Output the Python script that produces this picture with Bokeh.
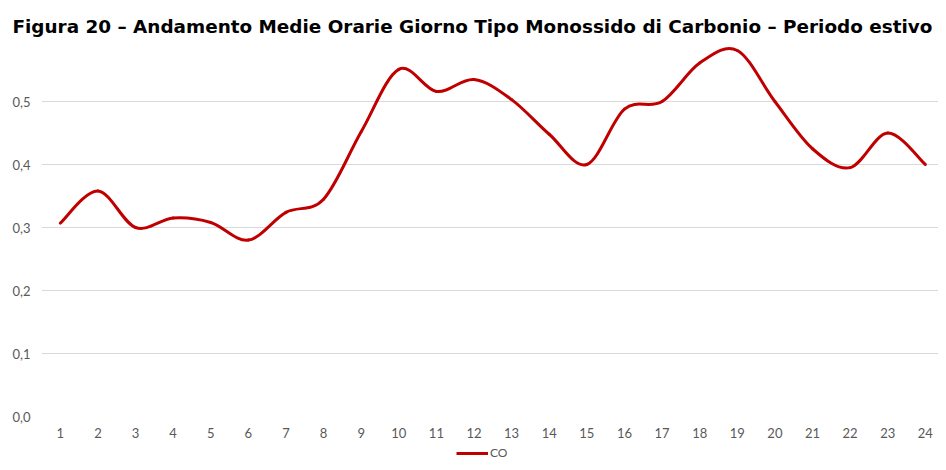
from bokeh.plotting import figure
from bokeh.layouts import column
from bokeh.models import Range1d, FixedTicker, Legend, LegendItem, ColumnDataSource
from bokeh.embed import file_html
from bokeh.resources import INLINE

# ---- data ----
hours = list(range(1, 25))
co = [0.307, 0.358, 0.300, 0.315, 0.308, 0.280, 0.324, 0.345, 0.452, 0.551, 0.516, 0.535,
      0.503, 0.448, 0.400, 0.488, 0.500, 0.561, 0.581, 0.500, 0.425, 0.395, 0.450, 0.400]
y_ticks = [0.0, 0.1, 0.2, 0.3, 0.4, 0.5]
y_tick_labels = ["0,0", "0,1", "0,2", "0,3", "0,4", "0,5"]
x_tick_labels = [str(h) for h in hours]
title_text = "Figura 20 \u2013 Andamento Medie Orarie Giorno Tipo Monossido di Carbonio \u2013 Periodo estivo"
series_name = "CO"

LINE_COLOR = "#C00000"
LABEL_COLOR = "#595959"
FONT = "Lato"

p = figure(width=938, height=444, output_backend="svg", toolbar_location=None,
           x_range=Range1d(0.5, 24.35), y_range=Range1d(0, 0.6),
           min_border_left=41, min_border_right=0, min_border_top=38, min_border_bottom=28)
p.outline_line_color = None
p.background_fill_color = "white"

# title
p.title.text = title_text
p.title.text_font = "DejaVu Sans"
p.title.text_font_style = "bold"
p.title.text_font_size = "18.4px"
p.title.text_color = "black"
p.title.align = "left"
p.title.offset = -29
p.title.standoff = 3

# Smoothed line (Excel-like): cubic Bezier segments with Catmull-Rom control points
n = len(hours)
x0, y0, x1, y1, cx0, cy0, cx1, cy1 = [], [], [], [], [], [], [], []
for i in range(n - 1):
    xp, yp = (hours[i - 1], co[i - 1]) if i > 0 else (hours[i], co[i])
    xa, ya = hours[i], co[i]
    xb, yb = hours[i + 1], co[i + 1]
    xn, yn = (hours[i + 2], co[i + 2]) if i + 2 < n else (hours[i + 1], co[i + 1])
    x0.append(xa); y0.append(ya); x1.append(xb); y1.append(yb)
    cx0.append(xa + (xb - xp) / 6.0); cy0.append(ya + (yb - yp) / 6.0)
    cx1.append(xb - (xn - xa) / 6.0); cy1.append(yb - (yn - ya) / 6.0)
src = ColumnDataSource(dict(x0=x0, y0=y0, x1=x1, y1=y1, cx0=cx0, cy0=cy0, cx1=cx1, cy1=cy1))
p.bezier(x0="x0", y0="y0", x1="x1", y1="y1", cx0="cx0", cy0="cy0", cx1="cx1", cy1="cy1",
         source=src, line_color=LINE_COLOR, line_width=3, line_cap="round")

# axes
p.xaxis.ticker = FixedTicker(ticks=hours)
p.xaxis.major_label_overrides = {h: lab for h, lab in zip(hours, x_tick_labels)}
p.yaxis.ticker = FixedTicker(ticks=y_ticks)
p.yaxis.major_label_overrides = {t: lab for t, lab in zip(y_ticks, y_tick_labels)}
for ax in (p.xaxis, p.yaxis):
    ax.axis_line_color = None
    ax.major_tick_line_color = None
    ax.minor_tick_line_color = None
    ax.major_tick_out = 0
    ax.major_tick_in = 0
    ax.major_label_text_font = FONT
    ax.major_label_text_font_size = "13px"
    ax.major_label_text_color = LABEL_COLOR
p.xaxis.major_label_standoff = 11
p.yaxis.major_label_standoff = 11

p.xgrid.grid_line_color = None
p.ygrid.grid_line_color = "#D9D9D9"
p.ygrid.grid_line_width = 1

# legend strip (separate small figure stacked below); its series line lies outside the strip's view
lf = figure(width=938, height=18, output_backend="svg", toolbar_location=None,
            x_range=Range1d(100, 101), y_range=Range1d(100, 101),
            x_axis_type=None, y_axis_type=None,
            min_border_left=0, min_border_right=0, min_border_top=0, min_border_bottom=0)
lf.outline_line_color = None
lf.xgrid.grid_line_color = None
lf.ygrid.grid_line_color = None
leg_r = lf.line(x=hours, y=co, line_color=LINE_COLOR, line_width=3)
legend = Legend(items=[LegendItem(label=series_name, renderers=[leg_r])],
                location=(415, 2), orientation="horizontal",
                glyph_width=32, glyph_height=14, label_height=14, label_standoff=2,
                padding=0, margin=0, border_line_color=None, background_fill_alpha=0,
                label_text_font=FONT, label_text_font_size="12px", label_text_color=LABEL_COLOR)
lf.add_layout(legend, "center")

layout = column(p, lf, spacing=0)
open("out.html", "w").write(file_html(layout, INLINE))
